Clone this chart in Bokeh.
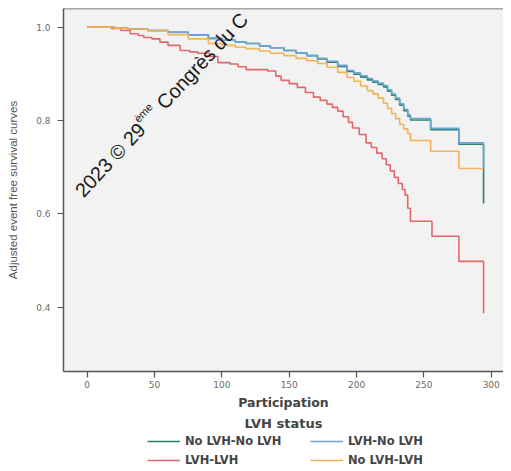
from bokeh.plotting import figure
from bokeh.models import Range1d, FixedTicker, Span, Legend, LegendItem, Title, Label
from bokeh.layouts import column
from bokeh.embed import file_html
from bokeh.resources import INLINE

# ---------------- data ----------------
group_names = ["No LVH-No LVH", "LVH-No LVH", "LVH-LVH", "No LVH-LVH"]
group_colors = ["#2b7f6e", "#6ea6d2", "#e5676b", "#f3b254"]

# LVH-No LVH (blue)
t_ln = [0, 20, 30, 45, 60, 75, 90, 100, 110, 118, 128, 136, 146, 155, 163, 171, 178,
        186, 193, 198, 203, 208, 212, 216, 220, 223, 226, 229, 232, 235, 238, 240,
        255, 276, 294.3]
s_ln = [1.0, 0.998, 0.996, 0.993, 0.989, 0.983, 0.976, 0.972, 0.968, 0.965, 0.960,
        0.956, 0.950, 0.945, 0.939, 0.933, 0.927, 0.918, 0.907, 0.902, 0.896, 0.890,
        0.885, 0.880, 0.875, 0.866, 0.857, 0.848, 0.836, 0.824, 0.812, 0.804, 0.783,
        0.752, 0.697]

# No LVH-No LVH (green)
t_nn = [0, 20, 30, 45, 60, 75, 90, 100, 110, 118, 128, 136, 146, 155, 163, 171, 178,
        186, 193, 198, 203, 208, 212, 216, 220, 223, 226, 229, 232, 235, 238, 240,
        255, 276, 294.3]
s_nn = [1.0, 0.998, 0.996, 0.993, 0.989, 0.983, 0.976, 0.972, 0.968, 0.965, 0.960,
        0.956, 0.950, 0.945, 0.939, 0.932, 0.925, 0.916, 0.905, 0.899, 0.893, 0.887,
        0.882, 0.877, 0.872, 0.863, 0.854, 0.845, 0.833, 0.821, 0.809, 0.801, 0.780,
        0.749, 0.622]

# No LVH-LVH (orange)
t_nl = [0, 20, 30, 45, 60, 75, 90, 100, 110, 118, 128, 136, 146, 155, 163, 171, 178,
        186, 193, 198, 203, 208, 212, 216, 220, 223, 226, 229, 232, 235, 238, 240,
        255, 276, 294.3]
s_nl = [1.0, 0.998, 0.996, 0.992, 0.984, 0.975, 0.965, 0.961, 0.957, 0.954, 0.949,
        0.944, 0.939, 0.933, 0.928, 0.922, 0.914, 0.903, 0.892, 0.884, 0.874, 0.864,
        0.857, 0.848, 0.837, 0.826, 0.815, 0.804, 0.792, 0.782, 0.772, 0.757, 0.734,
        0.697, 0.697]

# LVH-LVH (red)
t_ll = [0, 18, 25, 32, 38, 42, 48, 54, 60, 69, 76, 82, 91, 97, 106, 112, 118, 134, 140,
        144, 150, 156, 162, 168, 173, 178, 182, 186, 190, 194, 197, 202, 207, 211, 215,
        219, 222, 225, 228, 231, 234, 236, 238, 240, 256, 276, 294.3]
s_ll = [1.0, 0.997, 0.993, 0.986, 0.982, 0.978, 0.975, 0.968, 0.961, 0.950, 0.947,
        0.944, 0.937, 0.924, 0.921, 0.915, 0.909, 0.906, 0.895, 0.886, 0.879, 0.871,
        0.860, 0.850, 0.843, 0.835, 0.828, 0.820, 0.808, 0.796, 0.784, 0.770, 0.752,
        0.742, 0.730, 0.718, 0.705, 0.692, 0.678, 0.665, 0.652, 0.640, 0.612, 0.584,
        0.552, 0.498, 0.387]

x_ticks = [0, 50, 100, 150, 200, 250, 300]
y_ticks = [0.4, 0.6, 0.8, 1.0]
y_tick_labels = ["0.4", "0.6", "0.8", "1.0"]

x_title = "Participation"
y_title = "Adjusted event free survival curves"
legend_title = "LVH status"

series = [(t_nn, s_nn), (t_ln, s_ln), (t_ll, s_ll), (t_nl, s_nl)]

W = 503

# ---------------- main figure ----------------
y_top = 1.040
p = figure(width=W, height=431, output_backend="svg", toolbar_location=None,
           x_range=Range1d(-17.6, 309.1), y_range=Range1d(0.262, y_top),
           min_border_left=63, min_border_right=0, min_border_top=8, min_border_bottom=0)
p.background_fill_color = "#f2f2f2"
p.border_fill_color = "white"
p.outline_line_color = None
p.xgrid.visible = False
p.ygrid.visible = False

for ax in (p.xaxis[0], p.yaxis[0]):
    ax.axis_line_color = "#555555"
    ax.axis_line_width = 1.5
    ax.major_tick_line_color = "#555555"
    ax.major_tick_line_width = 1.2
    ax.major_tick_out = 6
    ax.major_tick_in = 0
    ax.minor_tick_line_color = None
    ax.major_label_text_font = "DejaVu Sans"
    ax.major_label_text_font_size = "9px"
    ax.major_label_text_color = "#6a6a6a"

p.xaxis.ticker = FixedTicker(ticks=x_ticks)
p.yaxis.ticker = FixedTicker(ticks=y_ticks)
p.yaxis.major_label_overrides = {t: l for t, l in zip(y_ticks, y_tick_labels)}
p.yaxis.major_label_standoff = 7
p.xaxis.major_label_standoff = 3

p.yaxis.axis_label = y_title
p.yaxis.axis_label_text_font = "Liberation Sans"
p.yaxis.axis_label_text_font_size = "11.5px"
p.yaxis.axis_label_text_font_style = "normal"
p.yaxis.axis_label_text_color = "#555555"
p.yaxis.axis_label_standoff = 14

p.xaxis.axis_label = x_title
p.xaxis.axis_label_text_font = "DejaVu Sans"
p.xaxis.axis_label_text_font_size = "12.5px"
p.xaxis.axis_label_text_font_style = "bold"
p.xaxis.axis_label_text_color = "#444444"
p.xaxis.axis_label_standoff = 4

p.add_layout(Span(location=y_top, dimension="width", line_color="#555555", line_width=1.5))

for (t, s), c in zip(series, group_colors):
    p.step(t, s, mode="after", line_color=c, line_width=1.6)

# watermark text
wm = dict(angle=47, angle_units="deg", text_font="Liberation Sans", text_color="#1a1a1a",
          text_baseline="alphabetic")
p.add_layout(Label(x=-6.4, y=0.643, text="2023 © 29", text_font_size="20px", **wm))
p.add_layout(Label(x=36.2, y=0.800, text="ème", text_font_size="11px", **wm))
p.add_layout(Label(x=54.2, y=0.831, text="Congrès du C", text_font_size="20px", **wm))

p.add_layout(Title(text=legend_title, align="center", text_font="DejaVu Sans",
                   text_font_size="13px", text_font_style="bold", text_color="#444444",
                   standoff=2), "below")

# ---------------- legend strip ----------------
q = figure(width=W, height=36, output_backend="svg", toolbar_location=None,
           x_range=Range1d(1000, 1001), y_range=Range1d(1000, 1001),
           min_border_left=63, min_border_right=0, min_border_top=0, min_border_bottom=0)
q.axis.visible = False
q.grid.visible = False
q.outline_line_color = None
q.background_fill_color = None
q.border_fill_color = None

legend_renderers = [q.step(t, s, mode="after", line_color=c, line_width=1.6)
                    for (t, s), c in zip(series, group_colors)]

# column-major order: column 1 = green, red ; column 2 = blue, orange
order = [0, 2, 1, 3]
legend = Legend(items=[LegendItem(label=group_names[i], renderers=[legend_renderers[i]]) for i in order],
                location=(84, 0), orientation="vertical", ncols=2,
                glyph_width=33, glyph_height=12, label_standoff=5, label_width=120,
                label_height=12, spacing=5, padding=0, margin=0,
                border_line_color=None, background_fill_alpha=0,
                label_text_font="DejaVu Sans", label_text_font_size="11.5px",
                label_text_font_style="bold", label_text_color="#444444")
q.add_layout(legend)

open("out.html", "w").write(file_html(column(p, q), INLINE))
